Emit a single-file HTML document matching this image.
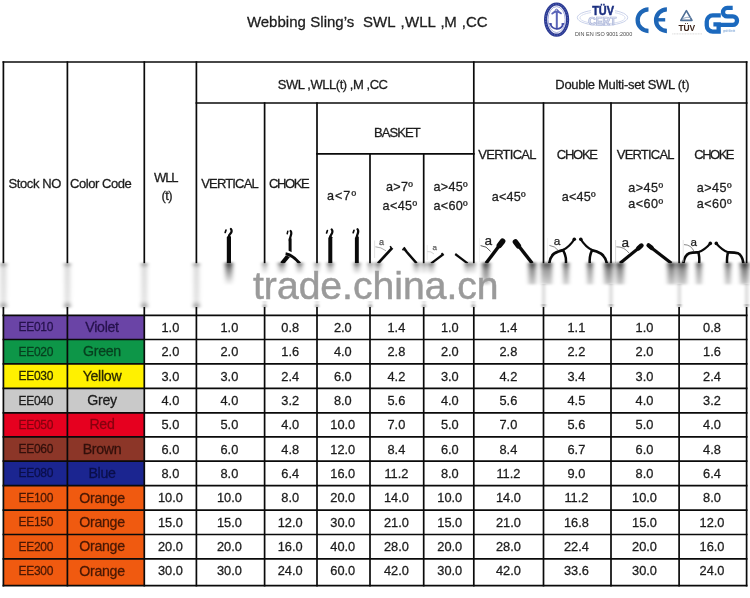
<!DOCTYPE html>
<html lang="en"><head><meta charset="utf-8"><title>Webbing Sling SWL WLL table</title>
<style>html,body{margin:0;padding:0;background:#fff}body{width:750px;height:598px;overflow:hidden}svg{display:block;transform:translateZ(0);will-change:transform}text{font-family:"Liberation Sans", Arial, sans-serif;fill:#1c1c1c}.h,.d,.a,.t,.s,.c{stroke:#1c1c1c;stroke-width:.28px}.h{font-size:13px}.d{font-size:12.8px}.s{font-size:12px;letter-spacing:-0.3px}.c{font-size:14.2px;letter-spacing:-0.3px}.a{font-size:12.6px}</style>
</head><body>
<svg width="750" height="598" viewBox="0 0 750 598">
<rect width="750" height="598" fill="#fff"/>
<rect x="3.4" y="315.4" width="140.9" height="24.1" fill="#6a44a6"/>
<rect x="3.4" y="339.5" width="140.9" height="24.4" fill="#0d9648"/>
<rect x="3.4" y="363.9" width="140.9" height="24.4" fill="#fff100"/>
<rect x="3.4" y="388.3" width="140.9" height="24.5" fill="#c9c9c9"/>
<rect x="3.4" y="412.8" width="140.9" height="24.0" fill="#e6001f"/>
<rect x="3.4" y="436.8" width="140.9" height="24.4" fill="#8c3628"/>
<rect x="3.4" y="461.2" width="140.9" height="24.5" fill="#1b2590"/>
<rect x="3.4" y="485.7" width="140.9" height="24.4" fill="#f05a10"/>
<rect x="3.4" y="510.1" width="140.9" height="24.4" fill="#f05a10"/>
<rect x="3.4" y="534.5" width="140.9" height="24.4" fill="#f05a10"/>
<rect x="3.4" y="558.9" width="140.9" height="26.7" fill="#f05a10"/>
<g stroke="#0a0a0a" stroke-width="1.70" fill="none" stroke-linecap="square">
<line x1="3.4" y1="62.0" x2="3.4" y2="585.6"/>
<line x1="67.4" y1="62.0" x2="67.4" y2="585.6"/>
<line x1="144.3" y1="62.0" x2="144.3" y2="585.6"/>
<line x1="196.4" y1="62.0" x2="196.4" y2="585.6"/>
<line x1="264.6" y1="103.0" x2="264.6" y2="585.6"/>
<line x1="317.0" y1="103.0" x2="317.0" y2="585.6"/>
<line x1="370.0" y1="153.8" x2="370.0" y2="585.6"/>
<line x1="423.7" y1="153.8" x2="423.7" y2="585.6"/>
<line x1="473.8" y1="62.0" x2="473.8" y2="585.6"/>
<line x1="543.5" y1="103.0" x2="543.5" y2="585.6"/>
<line x1="611.0" y1="103.0" x2="611.0" y2="585.6"/>
<line x1="679.1" y1="103.0" x2="679.1" y2="585.6"/>
<line x1="746.6" y1="62.0" x2="746.6" y2="585.6"/>
<line x1="3.4" y1="62.0" x2="746.6" y2="62.0"/>
<line x1="196.4" y1="103.0" x2="746.6" y2="103.0"/>
<line x1="317.0" y1="153.8" x2="473.8" y2="153.8"/>
<line x1="3.4" y1="315.4" x2="746.6" y2="315.4"/>
<line x1="3.4" y1="339.5" x2="746.6" y2="339.5"/>
<line x1="3.4" y1="363.9" x2="746.6" y2="363.9"/>
<line x1="3.4" y1="388.3" x2="746.6" y2="388.3"/>
<line x1="3.4" y1="412.8" x2="746.6" y2="412.8"/>
<line x1="3.4" y1="436.8" x2="746.6" y2="436.8"/>
<line x1="3.4" y1="461.2" x2="746.6" y2="461.2"/>
<line x1="3.4" y1="485.7" x2="746.6" y2="485.7"/>
<line x1="3.4" y1="510.1" x2="746.6" y2="510.1"/>
<line x1="3.4" y1="534.5" x2="746.6" y2="534.5"/>
<line x1="3.4" y1="558.9" x2="746.6" y2="558.9"/>
<line x1="3.4" y1="585.6" x2="746.6" y2="585.6"/>
</g>
<text y="27.4" class="t" style="font-size:15px" xml:space="preserve"><tspan x="246.9">Webbing</tspan><tspan x="306.4"> </tspan><tspan x="310.3">Sling’s</tspan><tspan x="355.6">  </tspan><tspan x="363">SWL</tspan><tspan x="396.4"> </tspan><tspan x="400.6">,</tspan><tspan x="405.1">WLL</tspan><tspan x="435.5"> </tspan><tspan x="440.4">,</tspan><tspan x="444.3">M</tspan><tspan x="457.3"> </tspan><tspan x="461.8">,</tspan><tspan x="466.0">CC</tspan></text>
<text x="8.6" y="188.3" textLength="52.7" lengthAdjust="spacing" class="h">Stock NO</text>
<text x="70.0" y="188.3" textLength="61.7" lengthAdjust="spacing" class="h">Color Code</text>
<text x="154.0" y="182.1" textLength="24.6" lengthAdjust="spacing" class="h">WLL</text>
<text x="161.4" y="200.0" textLength="11.1" lengthAdjust="spacing" class="h">(t)</text>
<text x="201.3" y="188.3" textLength="57.4" lengthAdjust="spacing" class="h">VERTICAL</text>
<text x="269.1" y="188.3" textLength="40.5" lengthAdjust="spacing" class="h">CHOKE</text>
<text x="277.8" y="89.4" textLength="110.2" lengthAdjust="spacing" class="h">SWL ,WLL(t) ,M ,CC</text>
<text x="555.3" y="89.0" textLength="134.2" lengthAdjust="spacing" class="h">Double Multi-set SWL (t)</text>
<text x="374.1" y="136.8" textLength="46.7" lengthAdjust="spacing" class="h">BASKET</text>
<text x="478.3" y="158.8" textLength="58.2" lengthAdjust="spacing" class="h">VERTICAL</text>
<text x="556.8" y="158.8" textLength="41.2" lengthAdjust="spacing" class="h">CHOKE</text>
<text x="616.8" y="158.8" textLength="57.7" lengthAdjust="spacing" class="h">VERTICAL</text>
<text x="694.3" y="158.8" textLength="40.2" lengthAdjust="spacing" class="h">CHOKE</text>
<text x="326.9" y="200.3" textLength="29.1" lengthAdjust="spacing" class="a">a&lt;7º</text>
<text x="386.0" y="191.4" textLength="26.8" lengthAdjust="spacing" class="a">a&gt;7º</text>
<text x="382.6" y="209.8" textLength="34.5" lengthAdjust="spacing" class="a">a&lt;45º</text>
<text x="433.5" y="191.4" textLength="34.2" lengthAdjust="spacing" class="a">a&gt;45º</text>
<text x="433.5" y="209.8" textLength="34.2" lengthAdjust="spacing" class="a">a&lt;60º</text>
<text x="491.8" y="200.6" textLength="33.7" lengthAdjust="spacing" class="a">a&lt;45º</text>
<text x="561.8" y="200.6" textLength="33.7" lengthAdjust="spacing" class="a">a&lt;45º</text>
<text x="628.3" y="192.0" textLength="34.7" lengthAdjust="spacing" class="a">a&gt;45º</text>
<text x="628.3" y="208.3" textLength="34.7" lengthAdjust="spacing" class="a">a&lt;60º</text>
<text x="696.8" y="192.0" textLength="34.7" lengthAdjust="spacing" class="a">a&gt;45º</text>
<text x="696.8" y="208.3" textLength="34.7" lengthAdjust="spacing" class="a">a&lt;60º</text>
<text x="35.8" y="331.4" text-anchor="middle" class="s" style="fill:#26124d;stroke:#26124d">EE010</text>
<text x="102.0" y="332.1" text-anchor="middle" class="c" style="fill:#26124d;stroke:#26124d">Violet</text>
<text x="170.4" y="331.9" text-anchor="middle" class="d">1.0</text>
<text x="229.4" y="331.9" text-anchor="middle" class="d">1.0</text>
<text x="290.2" y="331.9" text-anchor="middle" class="d">0.8</text>
<text x="342.8" y="331.9" text-anchor="middle" class="d">2.0</text>
<text x="396.4" y="331.9" text-anchor="middle" class="d">1.4</text>
<text x="449.8" y="331.9" text-anchor="middle" class="d">1.0</text>
<text x="508.4" y="331.9" text-anchor="middle" class="d">1.4</text>
<text x="576.4" y="331.9" text-anchor="middle" class="d">1.1</text>
<text x="644.5" y="331.9" text-anchor="middle" class="d">1.0</text>
<text x="712.0" y="331.9" text-anchor="middle" class="d">0.8</text>
<text x="35.8" y="355.7" text-anchor="middle" class="s" style="fill:#07401f;stroke:#07401f">EE020</text>
<text x="102.0" y="356.3" text-anchor="middle" class="c" style="fill:#07401f;stroke:#07401f">Green</text>
<text x="170.4" y="356.2" text-anchor="middle" class="d">2.0</text>
<text x="229.4" y="356.2" text-anchor="middle" class="d">2.0</text>
<text x="290.2" y="356.2" text-anchor="middle" class="d">1.6</text>
<text x="342.8" y="356.2" text-anchor="middle" class="d">4.0</text>
<text x="396.4" y="356.2" text-anchor="middle" class="d">2.8</text>
<text x="449.8" y="356.2" text-anchor="middle" class="d">2.0</text>
<text x="508.4" y="356.2" text-anchor="middle" class="d">2.8</text>
<text x="576.4" y="356.2" text-anchor="middle" class="d">2.2</text>
<text x="644.5" y="356.2" text-anchor="middle" class="d">2.0</text>
<text x="712.0" y="356.2" text-anchor="middle" class="d">1.6</text>
<text x="35.8" y="380.1" text-anchor="middle" class="s" style="fill:#2b2900;stroke:#2b2900">EE030</text>
<text x="102.0" y="380.7" text-anchor="middle" class="c" style="fill:#2b2900;stroke:#2b2900">Yellow</text>
<text x="170.4" y="380.6" text-anchor="middle" class="d">3.0</text>
<text x="229.4" y="380.6" text-anchor="middle" class="d">3.0</text>
<text x="290.2" y="380.6" text-anchor="middle" class="d">2.4</text>
<text x="342.8" y="380.6" text-anchor="middle" class="d">6.0</text>
<text x="396.4" y="380.6" text-anchor="middle" class="d">4.2</text>
<text x="449.8" y="380.6" text-anchor="middle" class="d">3.0</text>
<text x="508.4" y="380.6" text-anchor="middle" class="d">4.2</text>
<text x="576.4" y="380.6" text-anchor="middle" class="d">3.4</text>
<text x="644.5" y="380.6" text-anchor="middle" class="d">3.0</text>
<text x="712.0" y="380.6" text-anchor="middle" class="d">2.4</text>
<text x="35.8" y="404.6" text-anchor="middle" class="s" style="fill:#1c1c1c;stroke:#1c1c1c">EE040</text>
<text x="102.0" y="405.2" text-anchor="middle" class="c" style="fill:#1c1c1c;stroke:#1c1c1c">Grey</text>
<text x="170.4" y="405.1" text-anchor="middle" class="d">4.0</text>
<text x="229.4" y="405.1" text-anchor="middle" class="d">4.0</text>
<text x="290.2" y="405.1" text-anchor="middle" class="d">3.2</text>
<text x="342.8" y="405.1" text-anchor="middle" class="d">8.0</text>
<text x="396.4" y="405.1" text-anchor="middle" class="d">5.6</text>
<text x="449.8" y="405.1" text-anchor="middle" class="d">4.0</text>
<text x="508.4" y="405.1" text-anchor="middle" class="d">5.6</text>
<text x="576.4" y="405.1" text-anchor="middle" class="d">4.5</text>
<text x="644.5" y="405.1" text-anchor="middle" class="d">4.0</text>
<text x="712.0" y="405.1" text-anchor="middle" class="d">3.2</text>
<text x="35.8" y="428.8" text-anchor="middle" class="s" style="fill:#86000f;stroke:#86000f">EE050</text>
<text x="102.0" y="429.4" text-anchor="middle" class="c" style="fill:#86000f;stroke:#86000f">Red</text>
<text x="170.4" y="429.3" text-anchor="middle" class="d">5.0</text>
<text x="229.4" y="429.3" text-anchor="middle" class="d">5.0</text>
<text x="290.2" y="429.3" text-anchor="middle" class="d">4.0</text>
<text x="342.8" y="429.3" text-anchor="middle" class="d">10.0</text>
<text x="396.4" y="429.3" text-anchor="middle" class="d">7.0</text>
<text x="449.8" y="429.3" text-anchor="middle" class="d">5.0</text>
<text x="508.4" y="429.3" text-anchor="middle" class="d">7.0</text>
<text x="576.4" y="429.3" text-anchor="middle" class="d">5.6</text>
<text x="644.5" y="429.3" text-anchor="middle" class="d">5.0</text>
<text x="712.0" y="429.3" text-anchor="middle" class="d">4.0</text>
<text x="35.8" y="453.0" text-anchor="middle" class="s" style="fill:#33100b;stroke:#33100b">EE060</text>
<text x="102.0" y="453.6" text-anchor="middle" class="c" style="fill:#33100b;stroke:#33100b">Brown</text>
<text x="170.4" y="453.5" text-anchor="middle" class="d">6.0</text>
<text x="229.4" y="453.5" text-anchor="middle" class="d">6.0</text>
<text x="290.2" y="453.5" text-anchor="middle" class="d">4.8</text>
<text x="342.8" y="453.5" text-anchor="middle" class="d">12.0</text>
<text x="396.4" y="453.5" text-anchor="middle" class="d">8.4</text>
<text x="449.8" y="453.5" text-anchor="middle" class="d">6.0</text>
<text x="508.4" y="453.5" text-anchor="middle" class="d">8.4</text>
<text x="576.4" y="453.5" text-anchor="middle" class="d">6.7</text>
<text x="644.5" y="453.5" text-anchor="middle" class="d">6.0</text>
<text x="712.0" y="453.5" text-anchor="middle" class="d">4.8</text>
<text x="35.8" y="477.4" text-anchor="middle" class="s" style="fill:#0b0f4a;stroke:#0b0f4a">EE080</text>
<text x="102.0" y="478.1" text-anchor="middle" class="c" style="fill:#0b0f4a;stroke:#0b0f4a">Blue</text>
<text x="170.4" y="477.9" text-anchor="middle" class="d">8.0</text>
<text x="229.4" y="477.9" text-anchor="middle" class="d">8.0</text>
<text x="290.2" y="477.9" text-anchor="middle" class="d">6.4</text>
<text x="342.8" y="477.9" text-anchor="middle" class="d">16.0</text>
<text x="396.4" y="477.9" text-anchor="middle" class="d">11.2</text>
<text x="449.8" y="477.9" text-anchor="middle" class="d">8.0</text>
<text x="508.4" y="477.9" text-anchor="middle" class="d">11.2</text>
<text x="576.4" y="477.9" text-anchor="middle" class="d">9.0</text>
<text x="644.5" y="477.9" text-anchor="middle" class="d">8.0</text>
<text x="712.0" y="477.9" text-anchor="middle" class="d">6.4</text>
<text x="35.8" y="501.9" text-anchor="middle" class="s" style="fill:#4a1804;stroke:#4a1804">EE100</text>
<text x="102.0" y="502.5" text-anchor="middle" class="c" style="fill:#4a1804;stroke:#4a1804">Orange</text>
<text x="170.4" y="502.4" text-anchor="middle" class="d">10.0</text>
<text x="229.4" y="502.4" text-anchor="middle" class="d">10.0</text>
<text x="290.2" y="502.4" text-anchor="middle" class="d">8.0</text>
<text x="342.8" y="502.4" text-anchor="middle" class="d">20.0</text>
<text x="396.4" y="502.4" text-anchor="middle" class="d">14.0</text>
<text x="449.8" y="502.4" text-anchor="middle" class="d">10.0</text>
<text x="508.4" y="502.4" text-anchor="middle" class="d">14.0</text>
<text x="576.4" y="502.4" text-anchor="middle" class="d">11.2</text>
<text x="644.5" y="502.4" text-anchor="middle" class="d">10.0</text>
<text x="712.0" y="502.4" text-anchor="middle" class="d">8.0</text>
<text x="35.8" y="526.3" text-anchor="middle" class="s" style="fill:#4a1804;stroke:#4a1804">EE150</text>
<text x="102.0" y="526.9" text-anchor="middle" class="c" style="fill:#4a1804;stroke:#4a1804">Orange</text>
<text x="170.4" y="526.8" text-anchor="middle" class="d">15.0</text>
<text x="229.4" y="526.8" text-anchor="middle" class="d">15.0</text>
<text x="290.2" y="526.8" text-anchor="middle" class="d">12.0</text>
<text x="342.8" y="526.8" text-anchor="middle" class="d">30.0</text>
<text x="396.4" y="526.8" text-anchor="middle" class="d">21.0</text>
<text x="449.8" y="526.8" text-anchor="middle" class="d">15.0</text>
<text x="508.4" y="526.8" text-anchor="middle" class="d">21.0</text>
<text x="576.4" y="526.8" text-anchor="middle" class="d">16.8</text>
<text x="644.5" y="526.8" text-anchor="middle" class="d">15.0</text>
<text x="712.0" y="526.8" text-anchor="middle" class="d">12.0</text>
<text x="35.8" y="550.7" text-anchor="middle" class="s" style="fill:#4a1804;stroke:#4a1804">EE200</text>
<text x="102.0" y="551.3" text-anchor="middle" class="c" style="fill:#4a1804;stroke:#4a1804">Orange</text>
<text x="170.4" y="551.2" text-anchor="middle" class="d">20.0</text>
<text x="229.4" y="551.2" text-anchor="middle" class="d">20.0</text>
<text x="290.2" y="551.2" text-anchor="middle" class="d">16.0</text>
<text x="342.8" y="551.2" text-anchor="middle" class="d">40.0</text>
<text x="396.4" y="551.2" text-anchor="middle" class="d">28.0</text>
<text x="449.8" y="551.2" text-anchor="middle" class="d">20.0</text>
<text x="508.4" y="551.2" text-anchor="middle" class="d">28.0</text>
<text x="576.4" y="551.2" text-anchor="middle" class="d">22.4</text>
<text x="644.5" y="551.2" text-anchor="middle" class="d">20.0</text>
<text x="712.0" y="551.2" text-anchor="middle" class="d">16.0</text>
<text x="35.8" y="574.9" text-anchor="middle" class="s" style="fill:#4a1804;stroke:#4a1804">EE300</text>
<text x="102.0" y="575.5" text-anchor="middle" class="c" style="fill:#4a1804;stroke:#4a1804">Orange</text>
<text x="170.4" y="575.4" text-anchor="middle" class="d">30.0</text>
<text x="229.4" y="575.4" text-anchor="middle" class="d">30.0</text>
<text x="290.2" y="575.4" text-anchor="middle" class="d">24.0</text>
<text x="342.8" y="575.4" text-anchor="middle" class="d">60.0</text>
<text x="396.4" y="575.4" text-anchor="middle" class="d">42.0</text>
<text x="449.8" y="575.4" text-anchor="middle" class="d">30.0</text>
<text x="508.4" y="575.4" text-anchor="middle" class="d">42.0</text>
<text x="576.4" y="575.4" text-anchor="middle" class="d">33.6</text>
<text x="644.5" y="575.4" text-anchor="middle" class="d">30.0</text>
<text x="712.0" y="575.4" text-anchor="middle" class="d">24.0</text>
<g fill="none" stroke="#0a0a0a" stroke-linecap="butt">
<path d="M226.8 263.5V237.6 L228.7 234.6 L231.0 236.8 V263.5Z" fill="#0a0a0a" stroke="none"/>
<path d="M228.9 236.5 C229.1 234.0 231.5 233.6 231.6 231.2 C231.7 230.2 231.4 229.5 230.9 229.0" stroke-width="2.3" stroke-linecap="round"/>
<path d="M226.0 230.0 l-0.8 2.4" stroke-width="1.7" stroke-linecap="round"/>
<path d="M290.1 252.6V238.5" stroke-width="3"/>
<path d="M289.8 240.5 C289.9 236.5 291.4 235.4 291.3 233 C291.3 232 291 231.4 290.6 231" stroke-width="2.2" stroke-linecap="round"/>
<path d="M287.8 231.3 l-0.6 2.4" stroke-width="1.5" stroke-linecap="round"/>
<path d="M288.6 255.4 L281.9 263.5" stroke-width="4.2"/>
<path d="M285.4 252.6 Q292.6 253.6 299.9 263.2" stroke="#fff" stroke-width="5.2"/>
<path d="M285.6 253.8 Q292.6 254.8 299.8 263.5" stroke-width="3"/>
<path d="M328.3 263.5V238.1 L330.1 235.1 L332.3 237.3 V263.5Z" fill="#0a0a0a" stroke="none"/>
<path d="M330.3 237.0 C330.5 234.5 332.3 234.1 332.4 231.7 C332.5 230.7 332.2 230.0 331.7 229.5" stroke-width="2.3" stroke-linecap="round"/>
<path d="M327.4 230.5 l-0.8 2.4" stroke-width="1.7" stroke-linecap="round"/>
<path d="M354.9 263.5V237.9 L356.7 234.9 L358.8 237.1 V263.5Z" fill="#0a0a0a" stroke="none"/>
<path d="M356.9 236.8 C357.1 234.3 358.1 233.9 358.2 231.5 C358.3 230.5 358.0 229.8 357.5 229.3" stroke-width="2.3" stroke-linecap="round"/>
<path d="M354.0 230.3 l-0.8 2.4" stroke-width="1.7" stroke-linecap="round"/>
<path d="M392.3 247.8 L378.0 263.3" stroke-width="2.7"/>
<path d="M390.2 246.2 l1 1.6" stroke-width="1.6"/>
<path d="M403.6 247.5 Q405.6 250.6 407 252.3 L416.6 263.3" stroke-width="2.5"/>
<path d="M402.2 249.4 l1.6 .8" stroke-width="1.4"/>
<path d="M443.6 254 L431.2 263.3" stroke-width="2.3"/>
<path d="M441.6 253 l1.2 1.6" stroke-width="1.5"/>
<path d="M455.2 254 L467.6 263.3" stroke-width="2.2"/>
<path d="M501.6 242.6 L486.0 263.3" stroke-width="3.4"/>
<path d="M502.6 241.2 L499.4 245.4" stroke-width="5.6" stroke-linecap="round"/>
<path d="M516.4 243 L532.2 263.3" stroke-width="3.4"/>
<path d="M515.4 241.8 L518.4 245.8" stroke-width="5.4" stroke-linecap="round"/>
<path d="M574.3 239.4 Q569.6 246.6 563 250.2" stroke-width="2.1"/>
<circle cx="574.3" cy="239.3" r="1.8" fill="#0a0a0a" stroke="none"/>
<path d="M564.2 249.8 Q557.6 251 554 253.6 Q550 257 549.2 263.5" stroke-width="2.7"/>
<path d="M562.8 249.8 Q566.6 256 565.9 263.5" stroke-width="2.5"/>
<path d="M580.8 239.4 Q585.4 246.6 592 250.2" stroke-width="2.1"/>
<circle cx="580.8" cy="239.3" r="1.8" fill="#0a0a0a" stroke="none"/>
<path d="M590.9 249.8 Q597.4 251 601 253.6 Q605.6 257 606.9 263.5" stroke-width="2.7"/>
<path d="M592.3 249.8 Q589 256 589.8 263.5" stroke-width="2.5"/>
<path d="M640.6 246.4 L620.0 263.3" stroke-width="3.2"/>
<path d="M641.4 245.6 L638.4 248.2" stroke-width="4.6" stroke-linecap="round"/>
<path d="M649.4 246.2 L671.4 263.3" stroke-width="3.2"/>
<path d="M648.6 245.4 L651.6 247.8" stroke-width="4.4" stroke-linecap="round"/>
<path d="M710.3 243.5 Q704.6 250.2 698 252.2" stroke-width="2.1"/>
<circle cx="710.3" cy="243.4" r="1.8" fill="#0a0a0a" stroke="none"/>
<path d="M699.4 252.4 Q692.4 252.2 689.3 253.2 Q684.4 255.4 683.3 263.5" stroke-width="2.6"/>
<path d="M698.2 251.8 Q699.8 257 699.1 263.5" stroke-width="2.5"/>
<path d="M716.3 243.5 Q722 250.2 728.2 252.2" stroke-width="2.1"/>
<circle cx="716.3" cy="243.4" r="1.8" fill="#0a0a0a" stroke="none"/>
<path d="M727 252.4 Q734.6 252.2 737.8 253.2 Q742.4 255.4 743.4 263.5" stroke-width="2.6"/>
<path d="M728.2 251.8 Q726.6 257 727.1 263.5" stroke-width="2.5"/>
</g>
<g fill="none" stroke="#8a8a8a" stroke-width="0.7">
<path d="M374.6 240.5V258" stroke="#d6d6d6"/><path d="M375.4 246.8 Q381 247 386 250.8"/>
<path d="M427.2 245V260" stroke="#e2e2e2"/><path d="M427.4 251.6 Q431 251 434 254" stroke="#bbb"/>
<path d="M479.4 238V262" stroke="#ececec"/><path d="M480.6 245.6 Q486.5 245.8 490.6 251.4" stroke="#444" stroke-width=".9"/>
<path d="M547.6 238V262" stroke="#ededed"/><path d="M549.4 245.4 Q555 246 558.4 250.6" stroke="#555"/>
<path d="M615.6 240V263" stroke="#c8c8c8"/><path d="M616.4 246.8 Q624 246.6 629 253" stroke="#555"/>
<path d="M683.2 240V262" stroke="#dcdcdc"/><path d="M684 244.6 Q691 244.6 694.2 251.6" stroke="#555"/>
</g>
<text x="381.6" y="245.2" text-anchor="middle" style="font-size:9.0px;fill:#555;stroke:#555;stroke-width:.25px">a</text>
<text x="434.8" y="250.2" text-anchor="middle" style="font-size:8.0px;fill:#666;stroke:#666;stroke-width:.25px">a</text>
<text x="488.3" y="244.7" text-anchor="middle" style="font-size:13.6px;fill:#222;stroke:#222;stroke-width:.25px">a</text>
<text x="557.0" y="245.0" text-anchor="middle" style="font-size:11.8px;fill:#222;stroke:#222;stroke-width:.25px">a</text>
<text x="625.2" y="247.3" text-anchor="middle" style="font-size:13.6px;fill:#222;stroke:#222;stroke-width:.25px">a</text>
<text x="693.7" y="245.9" text-anchor="middle" style="font-size:11.6px;fill:#222;stroke:#222;stroke-width:.25px">a</text>
<defs><filter id="bl" x="-400%" y="-20%" width="900%" height="140%"><feGaussianBlur stdDeviation="1.7 0.7"/></filter><filter id="bw" x="-400%" y="-20%" width="900%" height="140%"><feGaussianBlur stdDeviation="2.3 0.8"/></filter><filter id="bl2" x="-300%" y="-20%" width="700%" height="140%"><feGaussianBlur stdDeviation="1.1 1.2"/></filter><linearGradient id="fd" x1="0" y1="0" x2="0" y2="1"><stop offset="0" stop-color="#000" stop-opacity=".8"/><stop offset=".25" stop-color="#000" stop-opacity=".45"/><stop offset=".6" stop-color="#000" stop-opacity="0.06"/><stop offset="1" stop-color="#000" stop-opacity="0"/></linearGradient><linearGradient id="fl" x1="0" y1="0" x2="0" y2="1"><stop offset="0" stop-color="#000" stop-opacity=".5"/><stop offset=".12" stop-color="#000" stop-opacity=".15"/><stop offset=".85" stop-color="#000" stop-opacity=".12"/><stop offset="1" stop-color="#000" stop-opacity=".5"/></linearGradient></defs>
<rect x="0" y="263.2" width="750" height="43.8" fill="#fff"/>
<g filter="url(#bw)">
<rect x="0.7" y="263" width="5.4" height="44.4" fill="url(#fl)"/>
<rect x="64.7" y="263" width="5.4" height="44.4" fill="url(#fl)"/>
<rect x="141.6" y="263" width="5.4" height="44.4" fill="url(#fl)"/>
<rect x="193.7" y="263" width="5.4" height="44.4" fill="url(#fl)"/>
</g>
<defs><linearGradient id="gL" x1="0" y1="0" x2="0" y2="1"><stop offset="0" stop-color="#000" stop-opacity=".85"/><stop offset=".3" stop-color="#000" stop-opacity=".5"/><stop offset=".8" stop-color="#000" stop-opacity=".12"/><stop offset="1" stop-color="#000" stop-opacity="0"/></linearGradient><linearGradient id="gS" x1="0" y1="0" x2="0" y2="1"><stop offset="0" stop-color="#000" stop-opacity=".7"/><stop offset=".4" stop-color="#000" stop-opacity=".3"/><stop offset="1" stop-color="#000" stop-opacity="0"/></linearGradient><linearGradient id="gM" x1="0" y1="0" x2="0" y2="1"><stop offset="0" stop-color="#000" stop-opacity=".8"/><stop offset=".35" stop-color="#000" stop-opacity=".45"/><stop offset="1" stop-color="#000" stop-opacity=".2"/></linearGradient></defs>
<g filter="url(#bw)">
<rect x="225.5" y="262.6" width="6.8" height="23.0" fill="url(#gL)"/>
<rect x="263.1" y="262.6" width="3.2" height="12.0" fill="url(#gS)"/>
<rect x="278.6" y="262.6" width="6.4" height="12.0" fill="url(#gS)"/>
<rect x="296.9" y="262.6" width="5.4" height="12.0" fill="url(#gS)"/>
<rect x="315.4" y="262.6" width="3.2" height="12.0" fill="url(#gS)"/>
<rect x="327.6" y="262.6" width="5.4" height="12.0" fill="url(#gS)"/>
<rect x="354.2" y="262.6" width="5.4" height="12.0" fill="url(#gS)"/>
<rect x="368.7" y="262.6" width="3.2" height="12.0" fill="url(#gS)"/>
<rect x="375.5" y="262.6" width="5.0" height="12.0" fill="url(#gS)"/>
<rect x="414.2" y="262.6" width="4.8" height="12.0" fill="url(#gS)"/>
<rect x="422.4" y="262.6" width="3.2" height="12.0" fill="url(#gS)"/>
<rect x="428.5" y="262.6" width="5.4" height="12.0" fill="url(#gS)"/>
<rect x="465.0" y="262.6" width="5.2" height="12.0" fill="url(#gS)"/>
<rect x="471.7" y="262.6" width="3.2" height="12.0" fill="url(#gS)"/>
<rect x="482.4" y="262.6" width="7.1" height="21.8" fill="url(#gM)"/>
<rect x="528.7" y="262.6" width="7.1" height="21.8" fill="url(#gM)"/>
<rect x="541.5" y="262.6" width="4.4" height="21.8" fill="url(#gM)"/>
<rect x="546.7" y="262.6" width="5.0" height="21.8" fill="url(#gM)"/>
<rect x="563.5" y="262.6" width="5.0" height="21.8" fill="url(#gM)"/>
<rect x="587.5" y="262.6" width="5.0" height="21.8" fill="url(#gM)"/>
<rect x="604.3" y="262.6" width="5.0" height="21.8" fill="url(#gM)"/>
<rect x="608.8" y="262.6" width="4.4" height="21.8" fill="url(#gM)"/>
<rect x="616.2" y="262.6" width="7.6" height="21.8" fill="url(#gM)"/>
<rect x="667.6" y="262.6" width="7.6" height="21.8" fill="url(#gM)"/>
<rect x="677.1" y="262.6" width="4.4" height="21.8" fill="url(#gM)"/>
<rect x="681.8" y="262.6" width="4.9" height="21.8" fill="url(#gM)"/>
<rect x="696.5" y="262.6" width="4.9" height="21.8" fill="url(#gM)"/>
<rect x="725.5" y="262.6" width="4.9" height="21.8" fill="url(#gM)"/>
<rect x="740.3" y="262.6" width="4.9" height="21.8" fill="url(#gM)"/>
<rect x="744.5" y="262.6" width="4.4" height="21.8" fill="url(#gM)"/>
</g>
<g filter="url(#bl)">
<rect x="263.2" y="301" width="3" height="3.4" fill="#000" fill-opacity=".14"/><rect x="263.4" y="304.4" width="2.6" height="3" fill="#000" fill-opacity=".4"/>
<rect x="315.5" y="301" width="3" height="3.4" fill="#000" fill-opacity=".14"/><rect x="315.7" y="304.4" width="2.6" height="3" fill="#000" fill-opacity=".4"/>
<rect x="368.8" y="301" width="3" height="3.4" fill="#000" fill-opacity=".14"/><rect x="369.0" y="304.4" width="2.6" height="3" fill="#000" fill-opacity=".4"/>
<rect x="422.5" y="301" width="3" height="3.4" fill="#000" fill-opacity=".14"/><rect x="422.7" y="304.4" width="2.6" height="3" fill="#000" fill-opacity=".4"/>
<rect x="471.8" y="301" width="3" height="3.4" fill="#000" fill-opacity=".14"/><rect x="472.0" y="304.4" width="2.6" height="3" fill="#000" fill-opacity=".4"/>
<rect x="542.0" y="284" width="3.4" height="22" fill="#000" fill-opacity=".14"/>
<rect x="542.3" y="304" width="2.8" height="3.4" fill="#000" fill-opacity=".3"/>
<rect x="609.3" y="284" width="3.4" height="22" fill="#000" fill-opacity=".14"/>
<rect x="609.6" y="304" width="2.8" height="3.4" fill="#000" fill-opacity=".3"/>
<rect x="677.6" y="284" width="3.4" height="22" fill="#000" fill-opacity=".14"/>
<rect x="677.9" y="304" width="2.8" height="3.4" fill="#000" fill-opacity=".3"/>
<rect x="745.0" y="284" width="3.4" height="22" fill="#000" fill-opacity=".14"/>
<rect x="745.3" y="304" width="2.8" height="3.4" fill="#000" fill-opacity=".3"/>
</g>
<text x="253.0" y="298.8" textLength="245.6" lengthAdjust="spacingAndGlyphs" style="font-size:38.8px;fill:#9a9a9a;stroke:#9a9a9a;stroke-width:.5px">trade.china.cn</text>
<g fill="none">
<ellipse cx="556.6" cy="19.6" rx="11" ry="15.6" stroke="#2b3a93" stroke-width="3.2"/>
<ellipse cx="556.6" cy="19.6" rx="8.6" ry="13" stroke="#9aa2d8" stroke-width=".9"/>
<ellipse cx="556.6" cy="19.6" rx="11" ry="15.6" stroke="#6d79c4" stroke-width=".8" stroke-dasharray="1.2 1.6"/>
<g stroke="#5a64b8" stroke-linecap="round">
<path d="M556.8 12.5V28.4" stroke-width="2"/>
<path d="M552.2 13.6 Q556.6 9.6 561 13.4" stroke-width="1.8"/>
<circle cx="556.6" cy="10.6" r="1.4" stroke-width="1"/>
<path d="M550.4 24.2 Q552.2 28.8 556.8 28.8 Q561.6 28.8 563 24.2" stroke-width="1.7" stroke="#3f4aa6"/>
<path d="M549.8 23.8 l1.6 .2 M563.6 23.8 l-1.6 .2" stroke-width="1.4" stroke="#3f4aa6"/>
</g></g>
<g fill="none" stroke="#c2cbe6" stroke-width=".9">
<ellipse cx="602.5" cy="17.6" rx="25.2" ry="7.9"/><ellipse cx="602.5" cy="17.8" rx="22.6" ry="6.1" stroke="#d3d9ee"/>
</g>
<rect x="591" y="4.5" width="24" height="11.4" fill="#fff"/>
<text x="592.2" y="14.8" textLength="21.8" lengthAdjust="spacingAndGlyphs" style="font-size:12.3px;font-weight:bold;fill:#1b2f80;stroke:#1b2f80;stroke-width:.5px">TÜV</text>
<text x="588.2" y="25.3" textLength="28.2" lengthAdjust="spacingAndGlyphs" style="font-size:10.2px;font-weight:bold;fill:#e4e8f5;stroke:#aab4d8;stroke-width:.7px">CERT</text>
<text x="575" y="35.8" textLength="57.2" lengthAdjust="spacingAndGlyphs" style="font-size:5.9px;fill:#4a4a4a">DIN EN ISO 9001:2000</text>
<g fill="none" stroke="#1e66b6" stroke-width="4.3">
<path d="M648.5 9.3 A10.85 10.85 0 0 0 648.5 31.0"/>
<path d="M666.9 9.3 A10.85 10.85 0 0 0 666.9 31.0"/>
<path d="M657 19.8H665.2" stroke-width="3.4"/>
</g>
<g fill="none" stroke="#4f6f96" stroke-linejoin="round">
<path d="M686.4 10.6 L692 20.4 H680.8 Z" stroke-width="1.6"/><path d="M682.6 18.6 Q687 16.6 691 17.4" stroke-width=".8" stroke="#7f97b6"/>
</g>
<text x="678.4" y="31.4" textLength="16.8" lengthAdjust="spacingAndGlyphs" style="font-size:8.6px;font-weight:bold;fill:#3c241a">TÜV</text>
<path d="M672.3 33.9H702" stroke="#c4c4c4" stroke-width=".7" stroke-dasharray="1 .6" fill="none"/>
<g fill="none" stroke="#1b69be" stroke-width="4.3" stroke-linejoin="miter">
<path d="M720.8 15.45 H712.8 A6 6 0 0 0 706.75 21.5 V25.6 A6 6 0 0 0 712.8 31.65 H718.65 V24.4 H713.4"/>
<path d="M732.7 7.95 H727.2 A4.22 4.22 0 0 0 727.2 16.4 H732.8 A4.22 4.22 0 0 1 732.8 24.85 H720"/>
</g>
<text x="723.2" y="31.8" textLength="12" lengthAdjust="spacingAndGlyphs" style="font-size:2.6px;fill:#4f86c8">geprüfte Sicherheit</text>
</svg></body></html>
